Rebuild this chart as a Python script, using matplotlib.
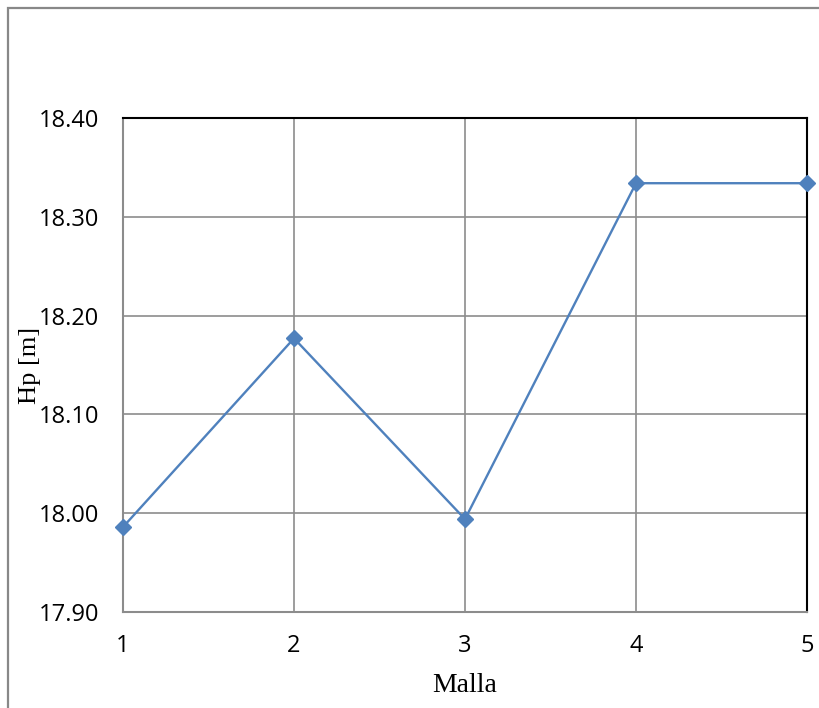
import matplotlib.pyplot as plt
from matplotlib.patches import Rectangle

# data
malla = [1, 2, 3, 4, 5]
hp = [17.986, 18.177, 17.994, 18.334, 18.334]
yticks = [17.90, 18.00, 18.10, 18.20, 18.30, 18.40]

W, H = 820, 708
fig = plt.figure(figsize=(W / 100, H / 100), dpi=100)

# outer chart border (runs off the right and bottom edge)
fig.patches.append(Rectangle((8 / W, -0.1), 1.2, 1 - 8 / H + 0.1,
                             transform=fig.transFigure, fill=False,
                             edgecolor='#888888', linewidth=1.6))

left, right, top, bottom = 123, 807, 118, 612
ax = fig.add_axes([left / W, 1 - bottom / H, (right - left) / W, (bottom - top) / H])

ax.plot(malla, hp, color='#4F81BD', linewidth=1.7, marker='D',
        markersize=8, markerfacecolor='#4F81BD', markeredgecolor='#4F81BD',
        zorder=3, clip_on=False)

ax.set_xlim(1, 5)
ax.set_ylim(17.90, 18.40)
ax.set_xticks(malla)
ax.set_yticks(yticks)
ax.set_yticklabels(['%.2f' % v for v in yticks])
ax.grid(True, color='#8c8c8c', linewidth=1.2)
ax.set_axisbelow(True)

for s in ['left', 'bottom']:
    ax.spines[s].set_color('#8c8c8c')
    ax.spines[s].set_linewidth(1.5)
for s in ['top', 'right']:
    ax.spines[s].set_color('black')
    ax.spines[s].set_linewidth(1.5)

ax.tick_params(axis='both', length=0, labelsize=17, colors='black')
ax.tick_params(axis='y', pad=17)
ax.tick_params(axis='x', pad=16)
for lab in ax.get_xticklabels() + ax.get_yticklabels():
    lab.set_family('Open Sans')

fig.text(30 / W, 1 - 365 / H, 'Hp [m]', rotation=90, ha='center', va='center',
         family='Liberation Serif', fontsize=19)
fig.text(465 / W, 1 - 686 / H, 'Malla', ha='center', va='center',
         family='Liberation Serif', fontsize=20)

fig.savefig('out.png', dpi=100)
